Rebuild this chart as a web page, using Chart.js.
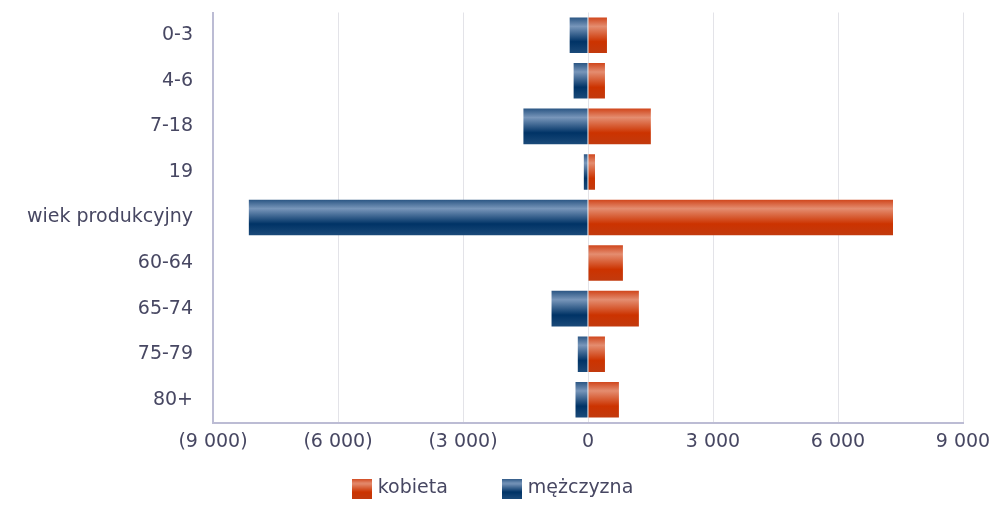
<!DOCTYPE html>
<html><head><meta charset="utf-8">
<script src="https://cdn.jsdelivr.net/npm/chart.js@4"></script>
<style>html,body{margin:0;padding:0;background:#fff}canvas{display:block}</style>
</head><body><canvas id="c" width="996" height="508"></canvas>
<script>
const categories = ['0-3', '4-6', '7-18', '19', 'wiek produkcyjny', '60-64', '65-74', '75-79', '80+'];
const seriesNames = ['kobieta', 'mężczyzna'];
const kobieta = [455, 407, 1508, 168, 7320, 838, 1221, 407, 742];
const mezczyzna = [-440, -345, -1550, -100, -8140, 0, -875, -245, -300];
const tickValues = [-9000, -6000, -3000, 0, 3000, 6000, 9000];

const orangeStops = [[0, '#d0461c'], [0.25, '#e48d70'], [0.68, '#cc3300'], [1, '#c23a0e']];
const blueStops = [[0, '#2b5684'], [0.25, '#7896ba'], [0.68, '#003366'], [1, '#1b4a79']];
const BAR_PCT = 0.78;

function barGradient(ctx, stops) {
  const chart = ctx.chart;
  const y = chart.scales && chart.scales.y;
  if (!y || ctx.dataIndex === undefined) return stops[2][1];
  const c = y.getPixelForValue(ctx.dataIndex);
  const step = Math.abs(y.getPixelForValue(1) - y.getPixelForValue(0));
  if (!isFinite(c) || !isFinite(step) || step === 0) return stops[2][1];
  const h = step * BAR_PCT;
  const g = chart.ctx.createLinearGradient(0, c - h / 2, 0, c + h / 2);
  stops.forEach(s => g.addColorStop(s[0], s[1]));
  return g;
}
function swatch(stops) {
  const cv = document.createElement('canvas');
  cv.width = 20; cv.height = 20;
  const x = cv.getContext('2d');
  if (stops) {
    const g = x.createLinearGradient(0, 0, 0, 20);
    stops.forEach(s => g.addColorStop(s[0], s[1]));
    x.fillStyle = g; x.fillRect(0, 0, 20, 20);
  }
  return cv;
}
const swatches = [swatch(orangeStops), swatch(blueStops)];
const blankSwatch = swatch(null);

function fmt(v) {
  const s = Math.abs(v).toString().replace(/\B(?=(\d{3})+(?!\d))/g, ' ');
  return v < 0 ? '(' + s + ')' : s;
}

const FONT = { family: '"DejaVu Sans", sans-serif', size: 19, lineHeight: 1.0 };
const TXT = '#474762';

function spacer() {
  return { text: '', pointStyle: blankSwatch, fillStyle: 'rgba(0,0,0,0)', strokeStyle: 'rgba(0,0,0,0)', lineWidth: 0, hidden: false, datasetIndex: -1 };
}

new Chart(document.getElementById('c'), {
  type: 'bar',
  data: {
    labels: categories,
    datasets: [
      { label: seriesNames[0], data: kobieta, backgroundColor: c => barGradient(c, orangeStops), borderWidth: 0 },
      { label: seriesNames[1], data: mezczyzna, backgroundColor: c => barGradient(c, blueStops), borderWidth: 0 }
    ]
  },
  options: {
    indexAxis: 'y',
    responsive: false,
    animation: false,
    datasets: { bar: { categoryPercentage: 1, barPercentage: BAR_PCT } },
    layout: { padding: { top: 0, right: 33, left: 25.5, bottom: 0 } },
    scales: {
      x: {
        stacked: true,
        min: -9000, max: 9000,
        afterBuildTicks: ax => { ax.ticks = tickValues.map(v => ({ value: v })); },
        afterFit: s => { s.paddingLeft = 0; s.paddingRight = 0; },
        ticks: { callback: v => fmt(v), color: TXT, font: FONT, padding: 10, maxRotation: 0 },
        grid: { color: '#e3e3e8', lineWidth: 1, drawTicks: false },
        border: { color: '#bcbcd4', width: 2 }
      },
      y: {
        stacked: true,
        afterFit: s => { s.width = 187.5; },
        ticks: { color: TXT, font: FONT, padding: 3 },
        grid: { display: false, drawTicks: true, tickLength: 17 },
        border: { color: '#bcbcd4', width: 2 }
      }
    },
    plugins: {
      legend: {
        position: 'bottom',
        labels: {
          color: TXT, font: FONT, usePointStyle: true, pointStyleWidth: 13, boxHeight: 20,
          padding: 17.5,
          generateLabels: chart => {
            const items = Chart.defaults.plugins.legend.labels.generateLabels(chart)
              .map((l, i) => Object.assign(l, { pointStyle: swatches[i] }));
            return [items[0], spacer(), items[1]];
          }
        }
      },
      tooltip: { enabled: false }
    }
  }
});
</script></body></html>
